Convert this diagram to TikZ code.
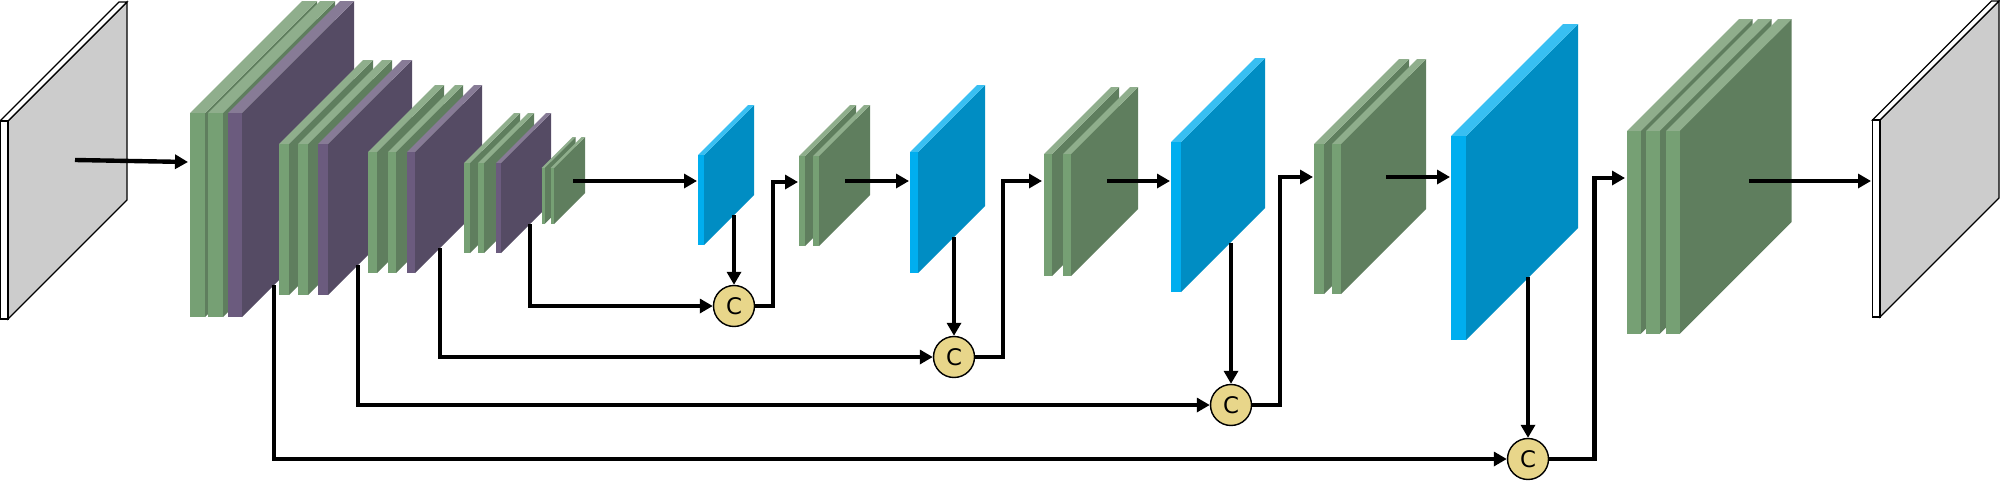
\documentclass[tikz,border=0pt]{standalone}
\usepackage{fontspec}
\newfontfamily\catfont{DejaVu Sans}
\usetikzlibrary{arrows.meta}
\definecolor{grntop}{HTML}{8FAE8C}
\definecolor{grnfront}{HTML}{76A074}
\definecolor{grnside}{HTML}{5F7E5E}
\definecolor{purtop}{HTML}{877B96}
\definecolor{purfront}{HTML}{6B5B7E}
\definecolor{purside}{HTML}{554B64}
\definecolor{blutop}{HTML}{38BFF2}
\definecolor{blufront}{HTML}{00AEEF}
\definecolor{bluside}{HTML}{008DC3}
\definecolor{ioside}{HTML}{CCCCCC}
\definecolor{catfill}{HTML}{E8D68A}
\tikzset{
  grnT/.style = {fill=grntop},
  grnF/.style = {fill=grnfront},
  grnS/.style = {fill=grnside},
  purT/.style = {fill=purtop},
  purF/.style = {fill=purfront},
  purS/.style = {fill=purside},
  bluT/.style = {fill=blutop},
  bluF/.style = {fill=blufront},
  bluS/.style = {fill=bluside},
  ioT/.style  = {fill=white, draw=black, line width=0.75pt},
  ioF/.style  = {fill=white, draw=black, line width=0.75pt},
  ioS/.style  = {fill=ioside, draw=black, line width=0.75pt},
  flow/.style = {-{Triangle[length=2.6mm, width=2.8mm]}, line width=2.5pt},
  catnode/.style = {circle, draw=black, fill=catfill, line width=0.8pt,
                    minimum size=8.2mm, inner sep=0pt,
                    font=\catfont\fontsize{13}{15}\selectfont},
}
% x, width, top, bottom, depth, family
\newcommand{\slab}[6]{%
  \path[#6S] (#1+#2,#3) -- ++(#5,-#5) -- ++(0,#4-#3) -- (#1+#2,#4) -- cycle;
  \path[#6T] (#1,#3) -- ++(#5,-#5) -- ++(#2,0) -- (#1+#2,#3) -- cycle;
  \path[#6F] (#1,#3) rectangle (#1+#2,#4);}
\begin{document}
\begin{tikzpicture}[x=0.02cm, y=-0.02cm]
  \useasboundingbox (0,0) rectangle (2000,490);
  \slab{0}{8}{121}{319}{119}{io}
  \slab{190}{15}{113}{317}{112}{grn}
  \slab{208}{15}{113}{317}{112}{grn}
  \slab{228}{14}{113}{317}{112}{pur}
  \slab{279}{10}{144}{295}{84}{grn}
  \slab{298}{10}{144}{295}{84}{grn}
  \slab{318}{10}{144}{295}{84}{pur}
  \slab{368}{9}{152}{273}{67}{grn}
  \slab{388}{8}{152}{273}{67}{grn}
  \slab{407}{8}{152}{273}{67}{pur}
  \slab{464}{6}{163}{253}{50}{grn}
  \slab{478}{6}{163}{253}{50}{grn}
  \slab{496}{5}{163}{253}{50}{pur}
  \slab{541.5}{3}{168}{224}{31}{grn}
  \slab{550.5}{3.5}{168}{224}{31}{grn}
  \slab{698}{6}{155}{245}{50}{blu}
  \slab{799}{6}{156}{246}{51}{grn}
  \slab{813}{6}{156}{246}{51}{grn}
  \slab{910}{8}{152}{273}{67}{blu}
  \slab{1044}{8}{154}{276}{67}{grn}
  \slab{1063}{8}{154}{276}{67}{grn}
  \slab{1171}{10}{142}{292}{84}{blu}
  \slab{1314}{10}{144}{294}{85}{grn}
  \slab{1332}{9}{144}{294}{85}{grn}
  \slab{1451}{15}{136}{340}{112}{blu}
  \slab{1627}{13.5}{131}{334}{112}{grn}
  \slab{1646}{13.5}{131}{334}{112}{grn}
  \slab{1666}{13.5}{131}{334}{112}{grn}
  \slab{1872.5}{7.5}{120}{317}{119}{io}
  \coordinate (in0) at (75,160);
  \coordinate (in1) at (188,162);
  \coordinate (e5) at (573,181);
  \coordinate (u1) at (697,181);
  \coordinate (u1d) at (734,215);
  \coordinate (s4) at (530,224);
  \coordinate (k1) at (773,182);
  \coordinate (d1) at (798,182);
  \coordinate (d1o) at (845,181);
  \coordinate (u2) at (909,181);
  \coordinate (u2d) at (954,237);
  \coordinate (s3) at (440,248);
  \coordinate (k2) at (1003,181);
  \coordinate (d2) at (1042,181);
  \coordinate (d2o) at (1107,181);
  \coordinate (u3) at (1170,181);
  \coordinate (u3d) at (1231,243);
  \coordinate (s2) at (358,265);
  \coordinate (k3) at (1280,177);
  \coordinate (d3) at (1313,177);
  \coordinate (d3o) at (1386,177);
  \coordinate (u4) at (1450,177);
  \coordinate (u4d) at (1528,277);
  \coordinate (s1) at (274,285);
  \coordinate (k4) at (1594.5,178);
  \coordinate (d4) at (1625,178);
  \coordinate (d4o) at (1749,181);
  \coordinate (out) at (1871,181);
  \node[catnode] (c1) at (734,306) {C};
  \node[catnode] (c2) at (954,357) {C};
  \node[catnode] (c3) at (1231,405) {C};
  \node[catnode] (c4) at (1528,459) {C};
  \draw[flow] (in0) -- (in1);
  \draw[flow] (e5) -- (u1);
  \draw[flow] (u1d) -- (c1);
  \draw[flow] (s4) |- (c1);
  \draw[flow] (c1) -| (k1) -- (d1);
  \draw[flow] (d1o) -- (u2);
  \draw[flow] (u2d) -- (c2);
  \draw[flow] (s3) |- (c2);
  \draw[flow] (c2) -| (k2) -- (d2);
  \draw[flow] (d2o) -- (u3);
  \draw[flow] (u3d) -- (c3);
  \draw[flow] (s2) |- (c3);
  \draw[flow] (c3) -| (k3) -- (d3);
  \draw[flow] (d3o) -- (u4);
  \draw[flow] (u4d) -- (c4);
  \draw[flow] (s1) |- (c4);
  \draw[flow] (c4) -| (k4) -- (d4);
  \draw[flow] (d4o) -- (out);
\end{tikzpicture}
\end{document}
